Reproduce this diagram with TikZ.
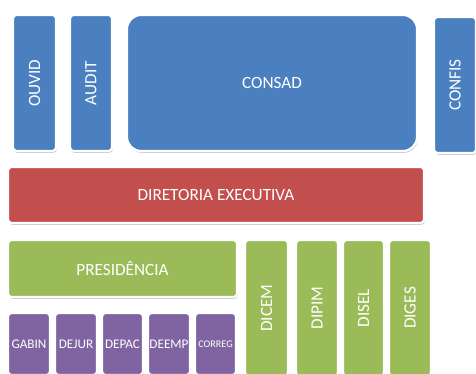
\documentclass[tikz,border=0pt]{standalone}
\usepackage{fontspec}
\setmainfont{Carlito}
\usetikzlibrary{shadows}
\definecolor{cblue}{HTML}{4A7FC0}
\definecolor{cred}{HTML}{C24F4D}
\definecolor{cgreen}{HTML}{9BBB59}
\definecolor{cpurple}{HTML}{8064A2}
\tikzset{
  box/.style={draw=white, line width=2.2pt, rounded corners=3.5pt, text=white,
    inner sep=0pt, font=\fontsize{17.2}{19}\selectfont,
    drop shadow={shadow xshift=0.8pt, shadow yshift=-1.8pt, opacity=0.35, fill=black!60}},
  bluebox/.style={box, fill=cblue},
  redbox/.style={box, fill=cred},
  greenbox/.style={box, fill=cgreen},
  purplebox/.style={box, fill=cpurple, font=\fontsize{13.2}{15}\selectfont},
}
\begin{document}
\begin{tikzpicture}[x=1pt,y=-1pt]
\useasboundingbox (0,0) rectangle (476,374);
\clip (0,0) rectangle (476,374);
% top row
\node[bluebox, minimum width=43pt, minimum height=136pt] (ouvid) at (34.5,83) {\rotatebox{90}{OUVID}};
\node[bluebox, minimum width=42pt, minimum height=136pt] (audit) at (91,83) {\rotatebox{90}{AUDIT}};
\node[bluebox, minimum width=290pt, minimum height=136pt, rounded corners=14pt] (consad) at (272,83) {CONSAD};
\node[bluebox, minimum width=42pt, minimum height=136pt] (confis) at (455,85) {\rotatebox{90}{CONFIS}};
% executive board
\node[redbox, minimum width=416pt, minimum height=56pt] (diretoria) at (216,195) {DIRETORIA EXECUTIVA};
% presidency
\node[greenbox, minimum width=229pt, minimum height=57pt] (presid) at (122.5,268.5) {PRESIDÊNCIA};
% purple units
\node[purplebox, minimum width=42pt, minimum height=62pt] (gabin) at (29,344) {GABIN};
\node[purplebox, minimum width=42pt, minimum height=62pt] (dejur) at (76,344) {DEJUR};
\node[purplebox, minimum width=41pt, minimum height=62pt] (depac) at (122.5,344) {DEPAC};
\node[purplebox, minimum width=42pt, minimum height=62pt] (deemp) at (169,344) {DEEMP};
\node[purplebox, minimum width=41pt, minimum height=62pt, font=\fontsize{10.2}{12}\selectfont] (correg) at (215.5,344) {CORREG};
% directorates
\node[greenbox, minimum width=43pt, minimum height=136pt] (dicem) at (266.5,308) {\rotatebox{90}{DICEM}};
\node[greenbox, minimum width=42pt, minimum height=136pt] (dipim) at (317,308) {\rotatebox{90}{DIPIM}};
\node[greenbox, minimum width=41pt, minimum height=136pt] (disel) at (363.5,308) {\rotatebox{90}{DISEL}};
\node[greenbox, minimum width=42pt, minimum height=136pt] (diges) at (410,308) {\rotatebox{90}{DIGES}};
\end{tikzpicture}
\end{document}
